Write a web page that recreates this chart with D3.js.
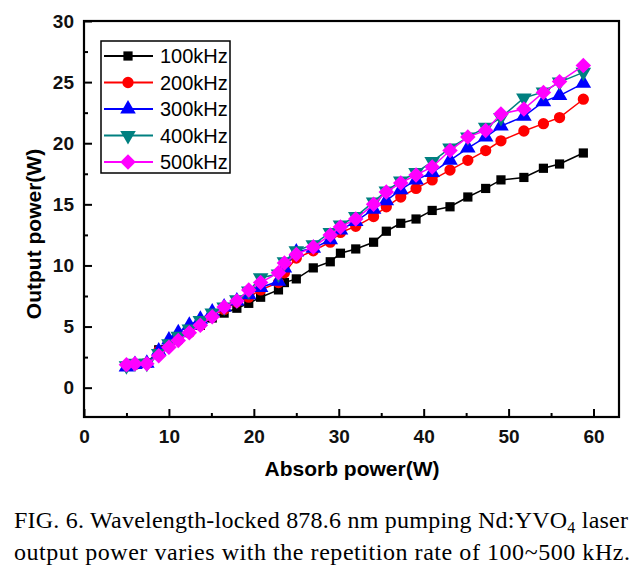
<!DOCTYPE html>
<html><head><meta charset="utf-8">
<script src="https://cdn.jsdelivr.net/npm/d3@7"></script>
<style>body{margin:0;background:#fff}</style>
</head><body>
<svg id="chart" width="644" height="573"></svg>
<script>
const absorb = [5.0, 6.0, 7.4, 8.8, 10.0, 11.1, 12.4, 13.7, 15.1, 16.5, 18.0, 19.4, 20.8, 22.9, 23.6, 25.0, 27.0, 29.0, 30.2, 32.0, 34.1, 35.6, 37.3, 39.1, 41.0, 43.1, 45.2, 47.3, 49.1, 51.8, 54.1, 56.0, 58.8];
const p100 = [1.8, 1.9, 2.0, 3.1, 3.5, 4.0, 4.6, 5.1, 5.7, 6.1, 6.5, 6.9, 7.4, 8.0, 8.6, 8.9, 9.8, 10.3, 11.0, 11.35, 11.9, 12.8, 13.45, 13.8, 14.5, 14.8, 15.6, 16.3, 17.0, 17.2, 17.95, 18.3, 19.2];
const p200 = [1.8, 1.9, 2.0, 3.0, 3.4, 3.9, 4.5, 5.1, 5.9, 6.4, 7.0, 7.4, 8.0, 8.6, 9.4, 10.6, 11.2, 11.9, 12.7, 13.2, 14.0, 14.8, 15.6, 16.3, 17.0, 17.8, 18.6, 19.4, 20.2, 21.0, 21.6, 22.1, 23.6];
const p300 = [1.7, 1.9, 2.0, 3.0, 3.9, 4.5, 5.1, 5.6, 6.2, 6.6, 7.1, 7.6, 8.2, 8.7, 9.8, 11.1, 11.4, 12.1, 12.9, 13.6, 14.6, 15.3, 16.2, 17.0, 17.6, 18.6, 19.6, 20.5, 21.4, 22.2, 23.4, 23.9, 24.9];
const p400 = [1.8, 2.0, 2.0, 2.8, 3.6, 4.2, 4.8, 5.5, 6.1, 6.6, 7.2, 7.9, 9.0, 9.3, 10.3, 11.2, 11.7, 12.7, 13.3, 14.0, 15.2, 16.1, 16.9, 17.6, 18.5, 19.6, 20.5, 21.3, 22.1, 23.7, 24.2, 25.0, 25.8];
const p500 = [1.88, 1.96, 1.96, 2.62, 3.3, 3.85, 4.5, 5.1, 5.8, 6.6, 7.1, 8.0, 8.6, 9.4, 10.2, 10.9, 11.5, 12.5, 13.15, 13.8, 15.0, 16.0, 16.75, 17.4, 18.06, 19.4, 20.5, 21.05, 22.4, 22.8, 24.16, 25.04, 26.35];
const seriesNames = ["100kHz", "200kHz", "300kHz", "400kHz", "500kHz"];
const xTicks = [0, 10, 20, 30, 40, 50, 60];
const yTicks = [0, 5, 10, 15, 20, 25, 30];
const xLabel = "Absorb power(W)";
const yLabel = "Output power(W)";

const colors = ["#000000", "#ff0000", "#0000ff", "#008080", "#ff00ff"];
const values = [p100, p200, p300, p400, p500];

const svg = d3.select("#chart");
svg.append("rect").attr("width", 644).attr("height", 573).attr("fill", "#fff");

const L = 84, R = 619, T = 21, B = 417;
const x = d3.scaleLinear().domain([0, 63]).range([L, R]);
const y = d3.scaleLinear().domain([-2.4, 30]).range([B, T]);

// custom symbols
const diamond = { draw(ctx, size) { const r = Math.sqrt(size / 2); ctx.moveTo(0, -r); ctx.lineTo(r, 0); ctx.lineTo(0, r); ctx.lineTo(-r, 0); ctx.closePath(); } };
const triDown = { draw(ctx, size) { const h = Math.sqrt(size * 4 / Math.sqrt(3)); const s = h * Math.sqrt(3) / 2; ctx.moveTo(-h/2, -s/3); ctx.lineTo(h/2, -s/3); ctx.lineTo(0, 2*s/3); ctx.closePath(); } };
const triUp = { draw(ctx, size) { const h = Math.sqrt(size * 4 / Math.sqrt(3)); const s = h * Math.sqrt(3) / 2; ctx.moveTo(-h/2, s/3); ctx.lineTo(h/2, s/3); ctx.lineTo(0, -2*s/3); ctx.closePath(); } };
const symTypes = [d3.symbolSquare, d3.symbolCircle, triUp, triDown, diamond];
const symSizes = [85, 100, 105, 105, 120];

// axes (inward ticks)
const xAxis = d3.axisBottom(x).tickValues(xTicks).tickSize(-8).tickPadding(13).tickFormat(d3.format("d"));
const xMinor = d3.axisBottom(x).tickValues([5, 15, 25, 35, 45, 55]).tickSize(-4).tickFormat("");
const yAxis = d3.axisLeft(y).tickValues(yTicks).tickSize(-8).tickPadding(10).tickFormat(d3.format("d"));
const yMinor = d3.axisLeft(y).tickValues([2.5, 7.5, 12.5, 17.5, 22.5, 27.5]).tickSize(-4).tickFormat("");

function styleAxis(g) {
  g.select(".domain").remove();
  g.selectAll("line").attr("stroke", "#000").attr("stroke-width", 2);
  g.selectAll("text").attr("font-family", "Liberation Sans, Arial, sans-serif").attr("font-size", 19)
    .attr("font-weight", "bold").attr("fill", "#111");
}
svg.append("g").attr("transform", `translate(0,${B})`).call(xAxis).call(styleAxis);
svg.append("g").attr("transform", `translate(0,${B})`).call(xMinor).call(styleAxis);
svg.append("g").attr("transform", `translate(${L},0)`).call(yAxis).call(styleAxis);
svg.append("g").attr("transform", `translate(${L},0)`).call(yMinor).call(styleAxis);

// frame
svg.append("rect").attr("x", L).attr("y", T).attr("width", R - L).attr("height", B - T)
  .attr("fill", "none").attr("stroke", "#000").attr("stroke-width", 2.2);

// series
const line = d3.line().x(d => x(d[0])).y(d => y(d[1]));
values.forEach((vals, i) => {
  const pts = absorb.map((a, j) => [a, vals[j]]);
  const g = svg.append("g");
  g.append("path").datum(pts).attr("d", line).attr("fill", "none").attr("stroke", colors[i]).attr("stroke-width", 1.5);
  g.selectAll("path.m").data(pts).join("path").attr("class", "m")
    .attr("transform", d => `translate(${x(d[0])},${y(d[1])})`)
    .attr("d", d3.symbol().type(symTypes[i]).size(symSizes[i])())
    .attr("fill", colors[i]);
});

// legend
const lg = svg.append("g");
lg.append("rect").attr("x", 101).attr("y", 41).attr("width", 129).attr("height", 132)
  .attr("fill", "#fff").attr("stroke", "#000").attr("stroke-width", 1.5);
seriesNames.forEach((name, i) => {
  const cy = 56 + i * 26.5;
  lg.append("line").attr("x1", 104).attr("x2", 153).attr("y1", cy).attr("y2", cy).attr("stroke", colors[i]).attr("stroke-width", 2);
  lg.append("path").attr("transform", `translate(128,${cy})`).attr("d", d3.symbol().type(symTypes[i]).size(symSizes[i])()).attr("fill", colors[i]);
  lg.append("text").attr("x", 160).attr("y", cy + 7).text(name)
    .attr("font-family", "Liberation Sans, Arial, sans-serif").attr("font-size", 20).attr("fill", "#000");
});

// axis titles
svg.append("text").attr("x", 352).attr("y", 476).attr("text-anchor", "middle")
  .attr("font-family", "Liberation Sans, Arial, sans-serif").attr("font-size", 21).attr("font-weight", "bold").text(xLabel);
svg.append("text").attr("transform", `translate(41,234) rotate(-90)`).attr("text-anchor", "middle")
  .attr("font-family", "Liberation Sans, Arial, sans-serif").attr("font-size", 21).attr("font-weight", "bold").text(yLabel);

// caption
const cap = svg.append("g").attr("font-family", "Liberation Serif, Times New Roman, serif").attr("font-size", 24).attr("fill", "#000");
const t1 = cap.append("text").attr("x", 14).attr("y", 528).attr("textLength", 614).attr("lengthAdjust", "spacing");
t1.append("tspan").text("FIG. 6. Wavelength-locked 878.6 nm pumping Nd:YVO");
t1.append("tspan").attr("font-size", 16).attr("dy", 5).text("4");
t1.append("tspan").attr("dy", -5).text(" laser");
cap.append("text").attr("x", 14).attr("y", 560).attr("textLength", 616).attr("lengthAdjust", "spacing")
  .text("output power varies with the repetition rate of 100~500 kHz.");
</script>
</body></html>
